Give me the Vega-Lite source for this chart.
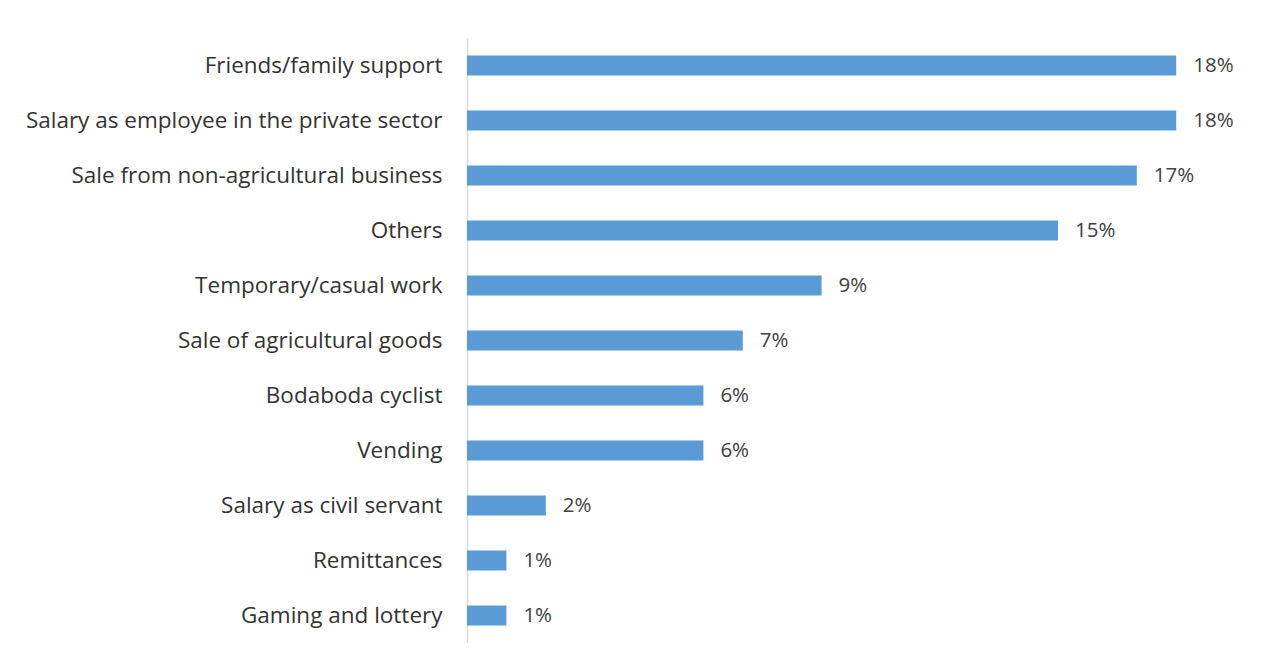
{
  "$schema": "https://vega.github.io/schema/vega-lite/v6.json",
  "autosize": {"type": "none"},
  "padding": {"left": 467, "top": 38, "right": 0, "bottom": 0},
  "width": 788,
  "height": 605,
  "background": "white",
  "config": {"view": {"stroke": null}},
  "data": {"values": [
    {"source": "Friends/family support", "share": 0.18},
    {"source": "Salary as employee in the private sector", "share": 0.18},
    {"source": "Sale from non-agricultural business", "share": 0.17},
    {"source": "Others", "share": 0.15},
    {"source": "Temporary/casual work", "share": 0.09},
    {"source": "Sale of agricultural goods", "share": 0.07},
    {"source": "Bodaboda cyclist", "share": 0.06},
    {"source": "Vending", "share": 0.06},
    {"source": "Salary as civil servant", "share": 0.02},
    {"source": "Remittances", "share": 0.01},
    {"source": "Gaming and lottery", "share": 0.01}
  ]},
  "encoding": {
    "y": {"field": "source", "type": "nominal", "sort": null,
      "scale": {"paddingInner": 0.64, "paddingOuter": 0.32},
      "axis": {"title": null, "ticks": false, "domainColor": "#d9d9d9", "domainWidth": 1.5,
        "labelFont": "Open Sans", "labelFontSize": 22.5, "labelColor": "#333333", "labelPadding": 25, "labelLimit": 600}},
    "x": {"field": "share", "type": "quantitative", "scale": {"domain": [0, 0.2], "nice": false},
      "axis": null}
  },
  "layer": [
    {"mark": {"type": "bar", "color": "#5B9BD5"}},
    {"mark": {"type": "text", "align": "left", "baseline": "middle", "dx": 17, "font": "Open Sans", "fontSize": 20.5, "color": "#404040"},
      "encoding": {"text": {"field": "share", "type": "quantitative", "format": ".0%"}}}
  ]
}
